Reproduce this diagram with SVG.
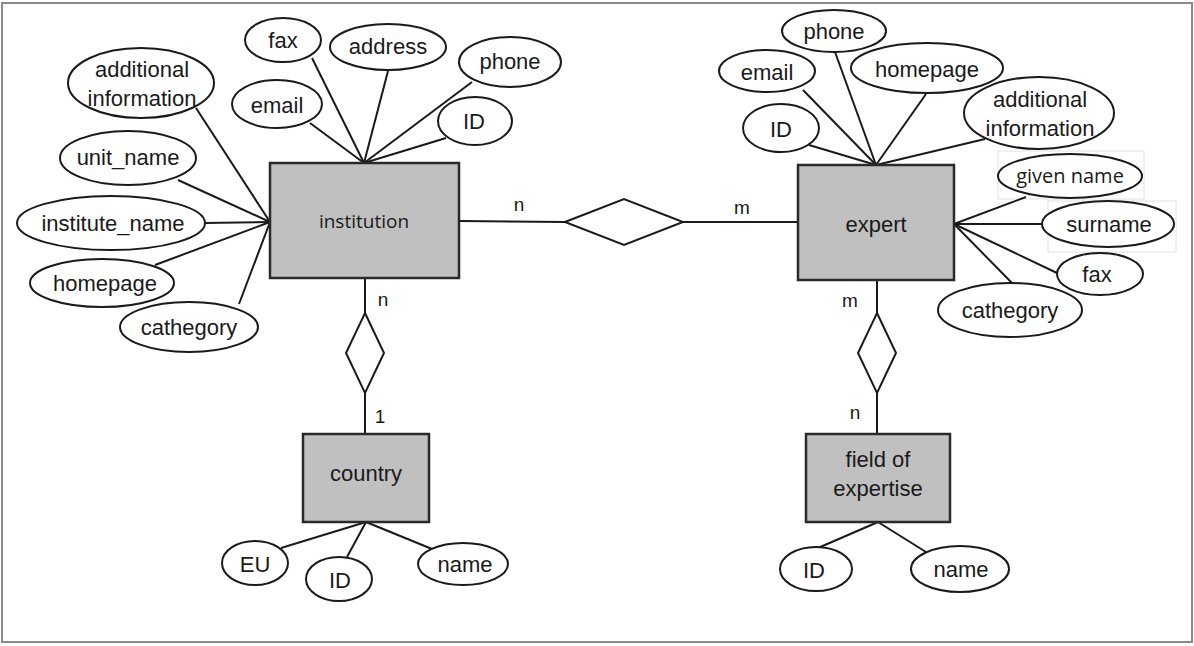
<svg xmlns="http://www.w3.org/2000/svg" width="1194" height="646" viewBox="0 0 1194 646">
<style>
.bg{fill:#fff}
.frame{fill:none;stroke:#8a8a8a;stroke-width:2}
.ent{fill:#c0c0c0;stroke:#2a2a2a;stroke-width:2.5}
.att{fill:#fff;stroke:#1a1a1a;stroke-width:2}
.rel{fill:#fff;stroke:#1a1a1a;stroke-width:2}
.ln{stroke:#1a1a1a;stroke-width:2;fill:none}
.t{font-family:"Liberation Sans",Arial,sans-serif;font-size:22px;fill:#1a1a1a;text-anchor:middle;dominant-baseline:central}
.t2{font-family:"Open Sans","Liberation Sans",sans-serif;font-size:19px;fill:#1a1a1a;text-anchor:middle;dominant-baseline:central}
.lab{font-family:"Liberation Sans",Arial,sans-serif;font-size:19px;fill:#1a1a1a;text-anchor:middle;dominant-baseline:central}
.patch{fill:#fff;stroke:#e2e2e2;stroke-width:1}
</style>
<rect class="bg" x="0" y="0" width="1194" height="646"/>
<rect class="frame" x="2" y="3" width="1190" height="639"/>

<g id="connectors">
  <line class="ln" x1="312" y1="58" x2="364" y2="163"/>
  <line class="ln" x1="388" y1="71" x2="364" y2="163"/>
  <line class="ln" x1="472" y1="82" x2="364" y2="163"/>
  <line class="ln" x1="310" y1="123" x2="364" y2="163"/>
  <line class="ln" x1="446" y1="138" x2="364" y2="163"/>
  <line class="ln" x1="196" y1="108" x2="270" y2="222"/>
  <line class="ln" x1="178" y1="180" x2="270" y2="222"/>
  <line class="ln" x1="205" y1="223" x2="270" y2="222"/>
  <line class="ln" x1="155" y1="265" x2="270" y2="222"/>
  <line class="ln" x1="239" y1="304" x2="270" y2="222"/>
  <line class="ln" x1="459" y1="221" x2="565" y2="222"/>
  <line class="ln" x1="683" y1="222" x2="798" y2="222"/>
  <line class="ln" x1="365" y1="278" x2="365" y2="313"/>
  <line class="ln" x1="365" y1="393" x2="365" y2="434"/>
  <line class="ln" x1="281" y1="548" x2="366" y2="522"/>
  <line class="ln" x1="347" y1="557" x2="366" y2="522"/>
  <line class="ln" x1="432" y1="549" x2="366" y2="522"/>
  <line class="ln" x1="835" y1="52" x2="876" y2="165"/>
  <line class="ln" x1="803" y1="90" x2="876" y2="165"/>
  <line class="ln" x1="926" y1="94" x2="876" y2="165"/>
  <line class="ln" x1="985" y1="139" x2="876" y2="165"/>
  <line class="ln" x1="809" y1="145" x2="876" y2="165"/>
  <line class="ln" x1="877" y1="280" x2="877" y2="313"/>
  <line class="ln" x1="877" y1="393" x2="877" y2="434"/>
  <line class="ln" x1="818" y1="548" x2="878" y2="522"/>
  <line class="ln" x1="926" y1="552" x2="878" y2="522"/>
</g>

<g id="patches">
  <rect class="patch" x="998" y="151" width="146" height="48"/>
  <rect class="patch" x="1048" y="201" width="128" height="51"/>
</g>

<g id="connectors-expert-right">
  <line class="ln" x1="1026" y1="197" x2="954" y2="224"/>
  <line class="ln" x1="1042" y1="224" x2="954" y2="224"/>
  <line class="ln" x1="1057" y1="273" x2="954" y2="224"/>
  <line class="ln" x1="1012" y1="283" x2="954" y2="224"/>
</g>

<g id="institution"><rect class="ent" x="270" y="163" width="189" height="115"/><text class="t2" x="364" y="221">institution</text></g>
<g id="expert"><rect class="ent" x="798" y="165" width="156" height="115"/><text class="t" x="876" y="224">expert</text></g>
<g id="country"><rect class="ent" x="303" y="434" width="126" height="88"/><text class="t" x="366" y="473">country</text></g>
<g id="field_of_expertise"><rect class="ent" x="806" y="434" width="144" height="88"/><text class="t" x="878" y="459">field of</text><text class="t" x="878" y="488">expertise</text></g>

<g id="rel_inst_expert"><polygon class="rel" points="565,222 624,199 683,222 624,245"/></g>
<g id="rel_inst_country"><polygon class="rel" points="365,313 384,353 365,393 346,353"/></g>
<g id="rel_expert_field"><polygon class="rel" points="877,313 896,353 877,393 858,353"/></g>

<g id="labels">
  <text class="lab" x="519" y="204">n</text>
  <text class="lab" x="742" y="207">m</text>
  <text class="lab" x="383" y="299">n</text>
  <text class="lab" x="380" y="416">1</text>
  <text class="lab" x="850" y="300">m</text>
  <text class="lab" x="855" y="412">n</text>
</g>

<g id="inst_fax"><ellipse class="att" cx="283" cy="40" rx="38" ry="22"/><text class="t" x="283" y="40">fax</text></g>
<g id="inst_address"><ellipse class="att" cx="388" cy="47" rx="58" ry="23"/><text class="t" x="388" y="46">address</text></g>
<g id="inst_phone"><ellipse class="att" cx="510" cy="62" rx="51" ry="25"/><text class="t" x="510" y="61">phone</text></g>
<g id="inst_email"><ellipse class="att" cx="277" cy="104" rx="45" ry="24"/><text class="t" x="277" y="105">email</text></g>
<g id="inst_id"><ellipse class="att" cx="475" cy="121" rx="37" ry="24"/><text class="t" x="474" y="121">ID</text></g>
<g id="inst_additional"><ellipse class="att" cx="141" cy="83" rx="73" ry="35"/><text class="t" x="142" y="69">additional</text><text class="t" x="142" y="98">information</text></g>
<g id="inst_unit_name"><ellipse class="att" cx="128" cy="158" rx="68" ry="27"/><text class="t" x="128" y="157">unit_name</text></g>
<g id="inst_institute_name"><ellipse class="att" cx="111" cy="223" rx="94" ry="27"/><text class="t" x="113" y="223">institute_name</text></g>
<g id="inst_homepage"><ellipse class="att" cx="102" cy="283" rx="72" ry="24"/><text class="t" x="105" y="283">homepage</text></g>
<g id="inst_cathegory"><ellipse class="att" cx="189" cy="327" rx="69" ry="25"/><text class="t" x="189" y="327">cathegory</text></g>

<g id="country_eu"><ellipse class="att" cx="255" cy="563" rx="33" ry="22"/><text class="t" x="255" y="564">EU</text></g>
<g id="country_id"><ellipse class="att" cx="339" cy="579" rx="33" ry="22"/><text class="t" x="340" y="580">ID</text></g>
<g id="country_name"><ellipse class="att" cx="463" cy="564" rx="45" ry="21"/><text class="t" x="465" y="564">name</text></g>

<g id="exp_phone"><ellipse class="att" cx="834" cy="31" rx="52" ry="21"/><text class="t" x="834" y="31">phone</text></g>
<g id="exp_email"><ellipse class="att" cx="767" cy="71" rx="48" ry="21"/><text class="t" x="767" y="72">email</text></g>
<g id="exp_homepage"><ellipse class="att" cx="927" cy="68" rx="76" ry="25"/><text class="t" x="927" y="69">homepage</text></g>
<g id="exp_additional"><ellipse class="att" cx="1039" cy="113" rx="75" ry="36"/><text class="t" x="1040" y="99">additional</text><text class="t" x="1040" y="128">information</text></g>
<g id="exp_id"><ellipse class="att" cx="781" cy="128" rx="38" ry="24"/><text class="t" x="781" y="129">ID</text></g>
<g id="exp_given_name"><ellipse class="att" cx="1070" cy="176" rx="72" ry="22"/><text class="t2" x="1070" y="175" style="font-size:20px">given name</text></g>
<g id="exp_surname"><ellipse class="att" cx="1108" cy="224" rx="66" ry="23"/><text class="t" x="1109" y="224">surname</text></g>
<g id="exp_fax"><ellipse class="att" cx="1100" cy="274" rx="43" ry="21"/><text class="t" x="1097" y="274">fax</text></g>
<g id="exp_cathegory"><ellipse class="att" cx="1010" cy="310" rx="72" ry="27"/><text class="t" x="1010" y="310">cathegory</text></g>

<g id="field_id"><ellipse class="att" cx="816" cy="569" rx="36" ry="22"/><text class="t" x="814" y="570">ID</text></g>
<g id="field_name"><ellipse class="att" cx="960" cy="569" rx="49" ry="23"/><text class="t" x="961" y="569">name</text></g>
</svg>
